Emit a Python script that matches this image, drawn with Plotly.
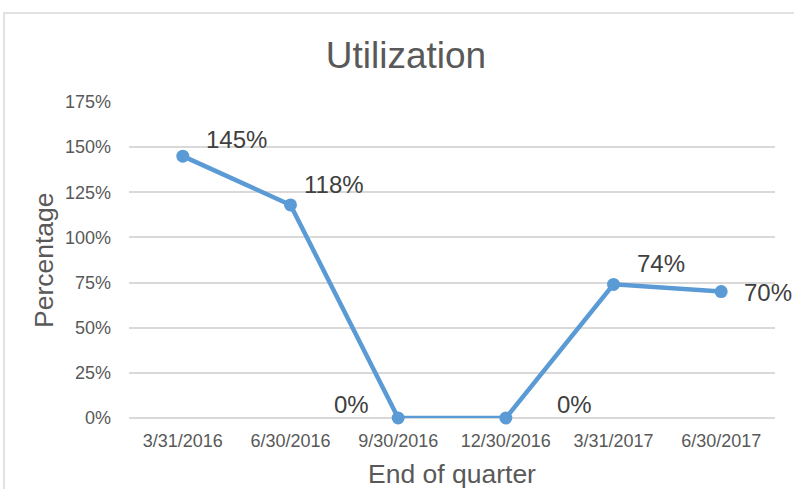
import plotly.graph_objects as go

quarters = ["3/31/2016", "6/30/2016", "9/30/2016", "12/30/2016", "3/31/2017", "6/30/2017"]
utilization = [145, 118, 0, 0, 74, 70]
value_labels = ["145%", "118%", "0%", "0%", "74%", "70%"]
y_tick_values = [0, 25, 50, 75, 100, 125, 150, 175]
y_tick_labels = ["0%", "25%", "50%", "75%", "100%", "125%", "150%", "175%"]
x_title = "End of quarter"
y_title = "Percentage"
chart_title = "Utilization"

# label offsets in pixels (styling only)
label_dx = [54, 43, -47, 69, 47, 47]
label_dy = [17, 20, 14, 14, 21, -1]

W, H = 794, 489
L, R, T, B = 129, 19, 102, 71
pw, ph = W - L - R, H - T - B

FONT = "Liberation Sans, Arial, sans-serif"
LINE = "#5B9BD5"
GRID = "#D9D9D9"
TXT = "#595959"

fig = go.Figure()
fig.add_trace(go.Scatter(
    x=quarters, y=utilization, mode="lines+markers",
    line=dict(color=LINE, width=4.5),
    marker=dict(color=LINE, size=13),
    cliponaxis=False, showlegend=False, hoverinfo="skip",
))

for q, v, t, dx, dy in zip(quarters, utilization, value_labels, label_dx, label_dy):
    fig.add_annotation(x=q, y=v, text=t, showarrow=False,
                       xanchor="center", yanchor="middle",
                       xshift=dx, yshift=dy,
                       font=dict(family=FONT, size=24, color="#404040"))

# axis titles
fig.add_annotation(xref="paper", yref="paper", x=(452 - L) / pw, y=0,
                   yshift=-(474 - (H - B)), text=x_title, showarrow=False,
                   xanchor="center", yanchor="middle",
                   font=dict(family=FONT, size=26.5, color=TXT))
fig.add_annotation(xref="paper", yref="paper", x=0, y=(H - B - 260) / ph,
                   xshift=-(L - 44), text=y_title, showarrow=False, textangle=-90,
                   xanchor="center", yanchor="middle",
                   font=dict(family=FONT, size=26.5, color=TXT))

# chart border
fig.add_shape(type="rect", xref="paper", yref="paper",
              x0=(4 - L) / pw, x1=(W + 20 - L) / pw,
              y0=-(H + 20 - T - ph) / ph, y1=(H - B - 13) / ph,
              line=dict(color=GRID, width=1.5), fillcolor="rgba(0,0,0,0)", layer="below")

fig.update_layout(
    width=W, height=H,
    margin=dict(l=L, r=R, t=T, b=B, autoexpand=False),
    paper_bgcolor="white", plot_bgcolor="white",
    title=dict(text=chart_title, x=406 / W, xref="container", xanchor="center",
               y=1 - 55 / H, yref="container", yanchor="middle",
               font=dict(family=FONT, size=37, color=TXT)),
    xaxis=dict(
        type="category", range=[-0.5, 5.5], showgrid=False, zeroline=False,
        showline=False, ticks="", ticklabelstandoff=10, automargin=False,
        tickfont=dict(family=FONT, size=18, color=TXT),
        fixedrange=True,
    ),
    yaxis=dict(
        range=[0, 175], tickvals=y_tick_values, ticktext=y_tick_labels,
        showgrid=True, gridcolor=GRID, gridwidth=1.5,
        zeroline=True, zerolinecolor=GRID, zerolinewidth=1.5,
        showline=False, ticks="", ticklabelstandoff=17, automargin=False,
        tickfont=dict(family=FONT, size=18, color=TXT),
        fixedrange=True,
    ),
)

fig.write_html("out.html", config={"displayModeBar": False},
               post_script="document.body.style.margin='0';")
